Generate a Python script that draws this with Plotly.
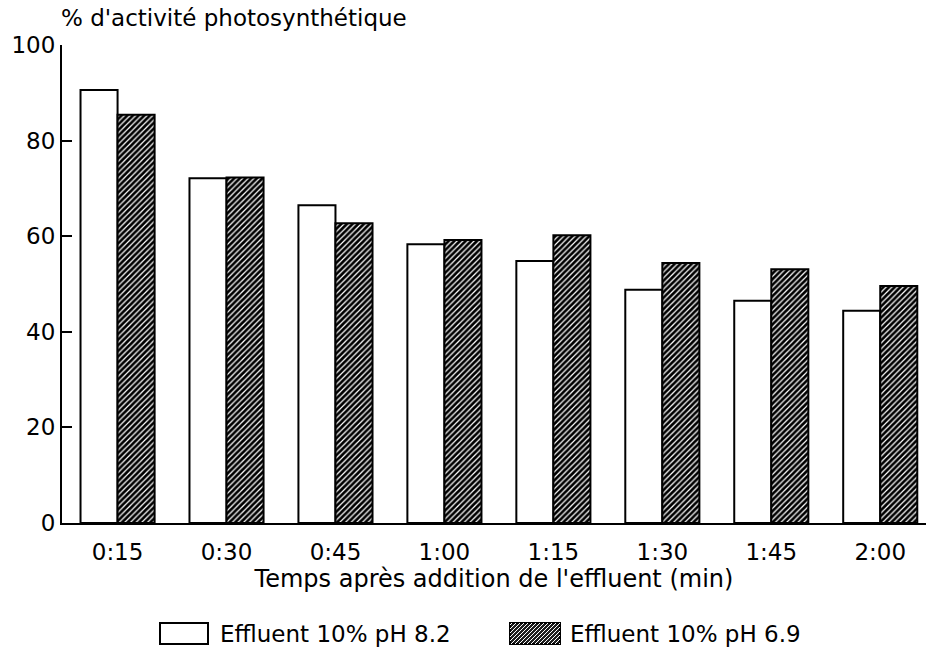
import plotly.graph_objects as go

# Temps après addition de l'effluent
categories = ["0:15", "0:30", "0:45", "1:00", "1:15", "1:30", "1:45", "2:00"]
# % d'activité photosynthétique
ph82 = [90.6, 72.1, 66.5, 58.3, 54.8, 48.8, 46.5, 44.4]
ph69 = [85.4, 72.3, 62.7, 59.2, 60.2, 54.4, 53.1, 49.6]
y_ticks = [0, 20, 40, 60, 80, 100]
series_names = ["Effluent 10% pH 8.2", "Effluent 10% pH 6.9"]

FONT = "DejaVu Sans"
W, H = 931, 654
ML, MR, MT, MB = 62, 5, 45, 131
PW, PH = W - ML - MR, H - MT - MB


def px_to_paper(x, y):
    """Convert page pixel coordinates into paper coordinates."""
    return (x - ML) / PW, (H - MB - y) / PH


fig = go.Figure()
fig.add_trace(go.Bar(
    x=categories, y=ph82, name=series_names[0],
    marker=dict(color="white", line=dict(color="black", width=2)),
))
fig.add_trace(go.Bar(
    x=categories, y=ph69, name=series_names[1],
    marker=dict(
        color="white",
        line=dict(color="black", width=2),
        pattern=dict(shape="/", fgcolor="black", bgcolor="white",
                     size=4, solidity=0.7, fillmode="replace"),
    ),
))

# Hand-made legend: swatch boxes and labels below the x-axis title
shapes = []
annotations = []
legend_items = [(160, 208, 218, False), (510, 560, 568, True)]
ly0, ly1 = 623, 644
for (bx0, bx1, tx, hatched), name in zip(legend_items, series_names):
    a0, b0 = px_to_paper(bx0, ly1)
    a1, b1 = px_to_paper(bx1, ly0)
    shapes.append(dict(type="rect", xref="paper", yref="paper",
                       x0=a0, x1=a1, y0=b0, y1=b1,
                       fillcolor="#1e1e1e" if hatched else "white",
                       line=dict(color="black", width=2)))
    if hatched:
        segs = []
        c = bx0 + ly0 + 2
        while c < bx1 + ly1:
            xa, xb = max(bx0, c - ly1), min(bx1, c - ly0)
            if xb > xa:
                p0 = px_to_paper(xa, c - xa)
                p1 = px_to_paper(xb, c - xb)
                segs.append(f"M{p0[0]:.5f},{p0[1]:.5f} L{p1[0]:.5f},{p1[1]:.5f}")
            c += 4
        shapes.append(dict(type="path", xref="paper", yref="paper",
                           path=" ".join(segs), line=dict(color="white", width=1)))
    tx_p, ty_p = px_to_paper(tx, 634)
    annotations.append(dict(text=name, xref="paper", yref="paper", x=tx_p, y=ty_p,
                            xanchor="left", yanchor="middle", showarrow=False,
                            font=dict(size=23)))

# y-axis title written above the axis
annotations.append(dict(
    text="% d'activité photosynthétique", xref="paper", yref="paper",
    x=-0.003, y=1.0, xanchor="left", yanchor="bottom", yshift=12,
    showarrow=False, font=dict(size=23),
))

fig.update_layout(
    width=W, height=H,
    margin=dict(l=ML, r=MR, t=MT, b=MB),
    paper_bgcolor="white", plot_bgcolor="white",
    barmode="group", bargap=0.32, bargroupgap=0,
    font=dict(family=FONT, size=23, color="black"),
    showlegend=False,
    xaxis=dict(
        range=[-0.51, 7.42], showline=True, linecolor="black", linewidth=2,
        ticks="", showgrid=False, zeroline=False, ticklabelstandoff=7,
        title=dict(text="Temps après addition de l'effluent (min)", standoff=0,
                   font=dict(size=24)),
    ),
    yaxis=dict(
        range=[0, 100], tickvals=y_ticks, showline=True, linecolor="black", linewidth=2,
        ticks="inside", ticklen=10, tickwidth=2, tickcolor="black",
        showgrid=False, zeroline=False, ticklabelstandoff=0,
    ),
    shapes=shapes,
    annotations=annotations,
)

fig.write_html("out.html")
